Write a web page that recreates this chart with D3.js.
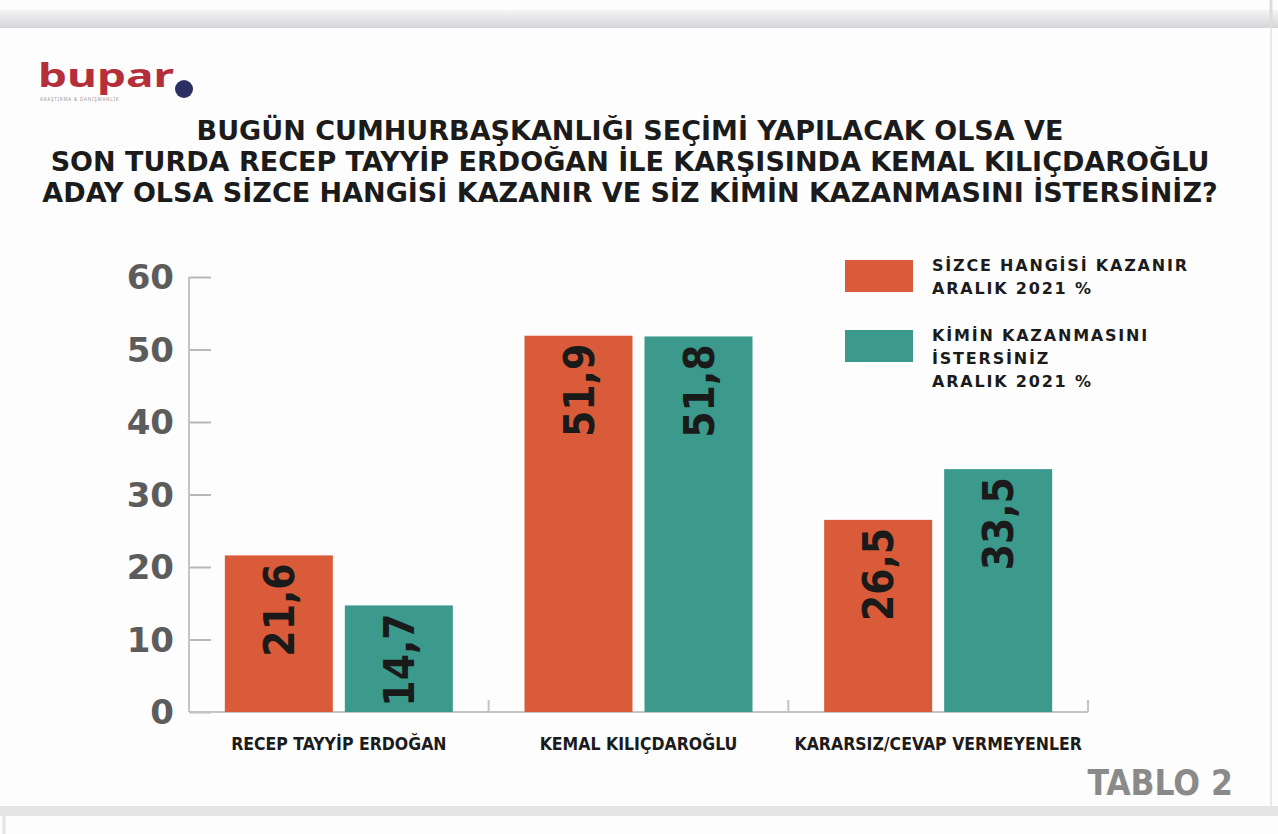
<!DOCTYPE html>
<html>
<head>
<meta charset="utf-8">
<script src="https://cdn.jsdelivr.net/npm/d3@7"></script>
<style>
  body { margin: 0; background: #fff; }
  svg { display: block; }
</style>
</head>
<body>
<svg width="1278" height="834"></svg>
<script>
const categories = ["RECEP TAYYİP ERDOĞAN", "KEMAL KILIÇDAROĞLU", "KARARSIZ/CEVAP VERMEYENLER"];
const seriesNames = ["kazanir", "istersiniz"];
const kazanir = [21.6, 51.9, 26.5];
const istersiniz = [14.7, 51.8, 33.5];
const yTicks = [0, 10, 20, 30, 40, 50, 60];
const titleLines = [
  "BUGÜN CUMHURBAŞKANLIĞI SEÇİMİ YAPILACAK OLSA VE",
  "SON TURDA RECEP TAYYİP ERDOĞAN İLE KARŞISINDA KEMAL KILIÇDAROĞLU",
  "ADAY OLSA SİZCE HANGİSİ KAZANIR VE SİZ KİMİN KAZANMASINI İSTERSİNİZ?"
];
const legendItems = [
  ["SİZCE HANGİSİ KAZANIR", "ARALIK 2021 %"],
  ["KİMİN KAZANMASINI", "İSTERSİNİZ", "ARALIK 2021 %"]
];

const colors = { kazanir: "#d95b39", istersiniz: "#3b9a8c" };
const svg = d3.select("svg");
const heavy = "'DejaVu Sans', sans-serif";

// page frame
const grad = svg.append("defs").append("linearGradient")
  .attr("id", "topband").attr("x1", 0).attr("x2", 0).attr("y1", 0).attr("y2", 1);
grad.append("stop").attr("offset", "0%").attr("stop-color", "#f4f4f6");
grad.append("stop").attr("offset", "100%").attr("stop-color", "#d6d6da");
svg.append("rect").attr("x", 0).attr("y", 0).attr("width", 1278).attr("height", 834).attr("fill", "#fdfdfd");
svg.append("rect").attr("x", 0).attr("y", 10).attr("width", 1278).attr("height", 18).attr("fill", "url(#topband)");
svg.append("rect").attr("x", 0).attr("y", 806).attr("width", 1278).attr("height", 10).attr("fill", "#e4e4e4");
svg.append("line").attr("x1", 1271).attr("x2", 1271).attr("y1", 0).attr("y2", 28).attr("stroke", "#dcdcdc").attr("stroke-width", 3);
svg.append("line").attr("x1", 1271).attr("x2", 1271).attr("y1", 28).attr("y2", 806).attr("stroke", "#e8e8e8").attr("stroke-width", 2);
svg.append("line").attr("x1", 4).attr("x2", 4).attr("y1", 816).attr("y2", 834).attr("stroke", "#e4e4e4").attr("stroke-width", 3);

// logo
svg.append("text").attr("x", 38).attr("y", 87)
  .attr("font-family", "'Noto Sans', sans-serif").attr("font-weight", 700)
  .attr("font-size", 32).attr("fill", "#b52f3b")
  .attr("textLength", 136).attr("lengthAdjust", "spacingAndGlyphs")
  .text("bupar");
svg.append("circle").attr("cx", 184).attr("cy", 89).attr("r", 9).attr("fill", "#2b2f63");
svg.append("text").attr("x", 40).attr("y", 101)
  .attr("font-family", "'Noto Sans', sans-serif").attr("font-size", 4.5)
  .attr("fill", "#999").attr("letter-spacing", 0.8)
  .text("ARAŞTIRMA & DANIŞMANLIK");

// title
svg.append("g").selectAll("text").data(titleLines).join("text")
  .attr("x", 630).attr("y", (d, i) => 140 + i * 31)
  .attr("text-anchor", "middle")
  .attr("font-family", heavy).attr("font-weight", 700)
  .attr("font-size", 27).attr("fill", "#1b1b1b")
  .text(d => d);

// scales
const x0 = d3.scaleBand().domain(categories).range([189, 1088]).paddingInner(0).paddingOuter(0);
const x1 = d3.scaleBand().domain(seriesNames).range([0, 228]).paddingInner(0.1);
const y = d3.scaleLinear().domain([0, 60]).range([712, 277]);

// y axis
const yAxis = svg.append("g").attr("transform", "translate(189,0)")
  .call(d3.axisRight(y).tickValues(yTicks).tickSize(22).tickFormat(""));
yAxis.select(".domain").remove();
yAxis.selectAll(".tick line").attr("stroke", "#b8b8b8").attr("stroke-width", 2);
svg.append("line").attr("x1", 189).attr("x2", 189).attr("y1", y(60)).attr("y2", y(0))
  .attr("stroke", "#c4c4c4").attr("stroke-width", 2);
svg.append("g").selectAll("text").data(yTicks).join("text")
  .attr("x", 174).attr("y", d => y(d) + 12)
  .attr("text-anchor", "end")
  .attr("font-family", heavy).attr("font-weight", 700)
  .attr("font-size", 34).attr("fill", "#5c5c5c")
  .text(d => d);

// x axis baseline and separators
svg.append("line").attr("x1", 189).attr("x2", 1088).attr("y1", y(0)).attr("y2", y(0))
  .attr("stroke", "#c4c4c4").attr("stroke-width", 2);
svg.append("g").selectAll("line").data(categories.slice(1).concat([null])).join("line")
  .attr("x1", (d, i) => d ? x0(d) : 1088).attr("x2", (d, i) => d ? x0(d) : 1088)
  .attr("y1", y(0) - 12).attr("y2", y(0))
  .attr("stroke", "#c4c4c4").attr("stroke-width", 2);

// bars
const rows = categories.map((c, i) => ({
  cat: c,
  vals: [{ key: "kazanir", v: kazanir[i] }, { key: "istersiniz", v: istersiniz[i] }]
}));
const groups = svg.append("g").selectAll("g").data(rows).join("g")
  .attr("transform", d => `translate(${x0(d.cat) + (x0.bandwidth() - 228) / 2},0)`);
groups.selectAll("rect").data(d => d.vals).join("rect")
  .attr("x", d => x1(d.key)).attr("y", d => y(d.v))
  .attr("width", x1.bandwidth()).attr("height", d => y(0) - y(d.v))
  .attr("fill", d => colors[d.key]);
groups.selectAll("text").data(d => d.vals).join("text")
  .attr("transform", d => `translate(${x1(d.key) + x1.bandwidth() / 2 + 15},${y(d.v) + 8}) rotate(-90)`)
  .attr("text-anchor", "end")
  .attr("font-family", heavy).attr("font-weight", 700).attr("font-stretch", "condensed")
  .attr("font-size", 42).attr("fill", "#1a1a1a")
  .text(d => String(d.v).replace(".", ","));

// category labels
svg.append("g").selectAll("text").data(categories).join("text")
  .attr("x", d => x0(d) + x0.bandwidth() / 2).attr("y", 750)
  .attr("text-anchor", "middle")
  .attr("font-family", heavy).attr("font-weight", 700).attr("font-stretch", "condensed")
  .attr("font-size", 17.5).attr("fill", "#1b1b1b")
  .text(d => d);

// legend
const legend = svg.append("g").selectAll("g").data(legendItems).join("g")
  .attr("transform", (d, i) => `translate(845,${i === 0 ? 260 : 330})`);
legend.append("rect").attr("width", 68).attr("height", 32)
  .attr("fill", (d, i) => colors[seriesNames[i]]);
legend.selectAll("text").data(d => d).join("text")
  .attr("x", 87).attr("y", (d, i) => 11 + i * 23)
  .attr("font-family", heavy).attr("font-weight", 700)
  .attr("font-size", 16).attr("letter-spacing", 1.8).attr("fill", "#1b1b1b")
  .text(d => d);

// footer tag
svg.append("text").attr("x", 1233).attr("y", 795)
  .attr("text-anchor", "end")
  .attr("font-family", heavy).attr("font-weight", 700).attr("font-stretch", "condensed")
  .attr("font-size", 35).attr("fill", "#8a8a8a")
  .text("TABLO 2");
</script>
</body>
</html>
